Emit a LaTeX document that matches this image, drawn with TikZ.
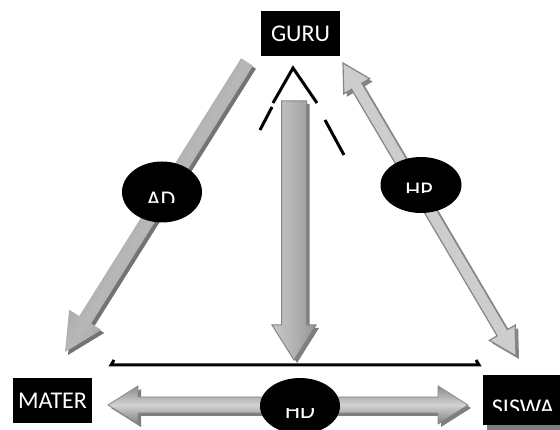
\documentclass[tikz,border=0pt]{standalone}
\usepackage{fontspec}
\setmainfont{Carlito}
\usetikzlibrary{calc}
\usetikzlibrary{shapes.geometric}

\definecolor{shadowgray}{HTML}{7E7E7E}
\definecolor{rimgray}{HTML}{858585}
\definecolor{palegray}{HTML}{CDCDCD}

% #1 style, #2 tail, #3 tip, #4 half shaft, #5 half head, #6 head length
\newcommand{\fatarrow}[6]{%
  \coordinate (#2h) at ($(#3)!#6!(#2)$);
  \path[#1] ($(#2)!#4!90:(#3)$) -- ($(#2h)!#4!90:(#3)$) -- ($(#2h)!#5!90:(#3)$) -- (#3)
    -- ($(#2h)!#5!-90:(#3)$) -- ($(#2h)!#4!-90:(#3)$) -- ($(#2)!#4!-90:(#3)$) -- cycle;
}
\newcommand{\twinarrow}[6]{%
  \coordinate (#2h) at ($(#2)!#6!(#3)$);
  \coordinate (#3h) at ($(#3)!#6!(#2)$);
  \path[#1] (#2) -- ($(#2h)!#5!90:(#3)$) -- ($(#2h)!#4!90:(#3)$) -- ($(#3h)!#4!90:(#3)$)
    -- ($(#3h)!#5!90:(#3)$) -- (#3) -- ($(#3h)!#5!-90:(#3)$) -- ($(#3h)!#4!-90:(#3)$)
    -- ($(#2h)!#4!-90:(#3)$) -- ($(#2h)!#5!-90:(#3)$) -- cycle;
}

\begin{document}
\begin{tikzpicture}[x=1pt,y=-1pt,
  box/.style={fill=black,text=white,minimum width=79pt,minimum height=45pt,inner sep=0pt,font=\fontsize{24}{26}\selectfont},
  oval/.style={ellipse,fill=black,minimum width=80pt,minimum height=58pt,inner sep=0pt},
  lbl/.style={text=white,inner sep=0pt,anchor=base,font=\fontsize{24}{26}\selectfont},
  drop/.style={fill=shadowgray,transform canvas={shift={(3pt,-3pt)}}},
  tri/.style={line width=3pt}]

  \useasboundingbox (0,0) rectangle (560,430);

  \draw[tri] (273,103) -- (293,68) -- (317,103);
  \draw[tri] (272,107) -- (260,130);
  \draw[tri] (325,120) -- (344,155);
  \draw[tri] (114,360) -- (111,365) -- (479,365) -- (476,360);

  \coordinate (ad-a) at (247,62);
  \coordinate (ad-b) at (65,352);
  \coordinate (hp-a) at (343,63);
  \coordinate (hp-b) at (516,356);
  \coordinate (mid-a) at (294,101);
  \coordinate (mid-b) at (294,360);
  \coordinate (hd-a) at (108,405);
  \coordinate (hd-b) at (468,405);

  \fatarrow{drop,fill=black!55}{ad-a}{ad-b}{7pt}{19pt}{38pt}
  \fatarrow{top color=black!52,bottom color=black!62,middle color=black!28,shading angle=57.9}{ad-a}{ad-b}{7pt}{19pt}{38pt}

  \twinarrow{drop,fill=rimgray}{hp-a}{hp-b}{6pt}{15pt}{27pt}
  \twinarrow{fill=palegray,draw=rimgray,line width=1.2pt}{hp-a}{hp-b}{6pt}{15pt}{27pt}

  \fatarrow{drop}{mid-a}{mid-b}{12.5pt}{22pt}{35pt}
  \fatarrow{left color=black!22,right color=black!42,middle color=black!30,draw=rimgray,line width=1pt}{mid-a}{mid-b}{12.5pt}{22pt}{35pt}

  \twinarrow{drop}{hd-a}{hd-b}{8pt}{19pt}{30pt}
  \twinarrow{top color=black!45,bottom color=black!50,middle color=black!18,draw=rimgray,line width=0.8pt}{hd-a}{hd-b}{8pt}{19pt}{30pt}

  \node[oval,minimum height=61pt] (ad) at (162,192) {};
  \node[oval,minimum width=81pt,minimum height=56pt] (hp) at (421,185) {};
  \node[oval,minimum height=56pt] (hd) at (300,406) {};

  \node[box] (guru) at (300.5,33.5) {GURU};
  \node[box] (mater) at (52.5,400.5) {MATER};
  \node[box,minimum width=82pt,minimum height=50pt] (siswa) at (524,400) {};
  \fill[shadowgray] ($(siswa.south west)+(4,0)$) rectangle ($(siswa.south east)+(4,5)$);

  \begin{scope}
    \clip (100,150) rectangle (230,203);
    \node[lbl] (adtext) at (161,207.5) {AD};
  \end{scope}
  \begin{scope}
    \clip (370,150) rectangle (470,192.5);
    \node[lbl] (hptext) at (419,198.5) {HP};
  \end{scope}
  \begin{scope}
    \clip (250,409) rectangle (350,430);
    \node[lbl] (hdtext) at (300,418) {HD};
  \end{scope}
  \begin{scope}
    \clip (480,380) rectangle (560,411);
    \node[lbl] (siswatext) at (523,415.5) {SISWA};
  \end{scope}

\end{tikzpicture}
\end{document}
